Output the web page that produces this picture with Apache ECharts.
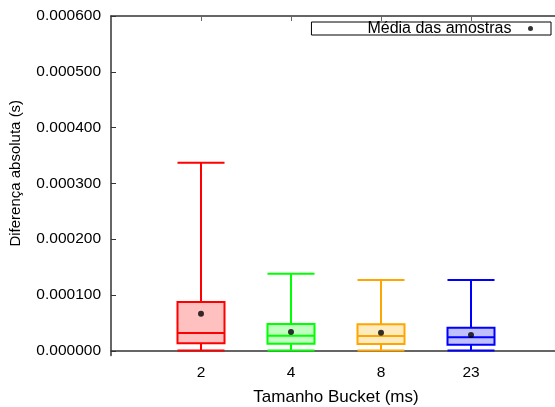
<!DOCTYPE html>
<html>
<head>
<meta charset="utf-8">
<script src="https://cdn.jsdelivr.net/npm/echarts@6/dist/echarts.min.js"></script>
<style>
  html, body { margin: 0; padding: 0; background: #fff; }
  #chart { width: 555px; height: 407px; }
</style>
</head>
<body>
<div id="chart"></div>
<script>
// Bucket sizes (ms) and the summary statistics of the absolute difference (s)
const buckets = ['2', '4', '8', '23'];
const whiskerLow = [0.0000005, 0.0000004, 0.0000005, 0.0000005];
const q1 = [0.0000133, 0.0000125, 0.0000120, 0.0000108];
const median = [0.0000317, 0.0000269, 0.0000263, 0.0000240];
const q3 = [0.0000873, 0.0000478, 0.0000473, 0.0000412];
const whiskerHigh = [0.000337, 0.000138, 0.0001267, 0.0001267];
const means = [0.0000663, 0.0000335, 0.0000323, 0.0000281];
const yTicks = [0, 0.0001, 0.0002, 0.0003, 0.0004, 0.0005, 0.0006];

const lineColors = ['#ff0000', '#00ff00', '#ffa500', '#0000ff'];
const fillColors = ['#ffc0c0', '#c0ffc0', '#ffebc0', '#c0c0ff'];

const FONT = 'Liberation Sans, Arial, Helvetica, sans-serif';
// one empty slot on each side keeps the boxes away from the frame
const axisCategories = [''].concat(buckets, ['']);

const boxData = buckets.map((b, i) => ({
  value: [b, whiskerLow[i], q1[i], median[i], q3[i], whiskerHigh[i]],
  itemStyle: { color: fillColors[i], borderColor: lineColors[i], borderWidth: 2 }
}));
const meanData = buckets.map((b, i) => [b, means[i]]);

const chart = echarts.init(document.getElementById('chart'), null, { renderer: 'canvas' });
chart.setOption({
  animation: false,
  backgroundColor: '#fff',
  textStyle: { fontFamily: FONT },
  grid: {
    left: 111, width: 450, top: 16, bottom: 51.5,
    containLabel: false, outerBoundsMode: 'none'
  },
  legend: {
    data: ['Média das amostras'],
    right: 4,
    top: 22,
    align: 'right',
    itemWidth: 28,
    itemHeight: 5,
    padding: [-1.5, 18, -1.5, 56],
    borderColor: '#000',
    borderWidth: 1,
    borderRadius: 0,
    textStyle: { fontFamily: FONT, fontSize: 16, color: '#000' },
    itemStyle: { color: '#000' },
    selectedMode: false
  },
  xAxis: [{
    type: 'category',
    data: axisCategories,
    boundaryGap: false,
    name: 'Tamanho Bucket (ms)',
    nameLocation: 'middle',
    nameGap: 33,
    nameTextStyle: { fontFamily: FONT, fontSize: 17, color: '#000' },
    axisLine: { show: true, lineStyle: { color: '#333', width: 1.5 } },
    axisTick: {
      show: true, inside: true, length: 5,
      interval: (idx, val) => val !== '',
      lineStyle: { color: '#666', width: 1 }
    },
    axisLabel: {
      fontFamily: FONT, fontSize: 15.5, color: '#000', margin: 9,
      interval: (idx, val) => val !== ''
    },
    splitLine: { show: false }
  }, {
    type: 'category',
    position: 'top',
    data: axisCategories,
    boundaryGap: false,
    axisLine: { show: true, lineStyle: { color: '#333', width: 1.5 } },
    axisTick: {
      show: true, inside: true, length: 5,
      interval: (idx, val) => val !== '',
      lineStyle: { color: '#666', width: 1 }
    },
    axisLabel: { show: false },
    splitLine: { show: false }
  }],
  yAxis: {
    type: 'value',
    min: -0.0000085,
    max: 0.0006,
    name: 'Diferença absoluta (s)',
    nameLocation: 'middle',
    nameRotate: 90,
    nameGap: 88,
    nameTextStyle: { fontFamily: FONT, fontSize: 15, color: '#000', padding: [0, 0, 0, 25] },
    axisLine: { show: true, lineStyle: { color: '#333', width: 1.5 } },
    axisTick: {
      show: true, inside: true, length: 5,
      customValues: yTicks,
      lineStyle: { color: '#333', width: 1 }
    },
    axisLabel: {
      fontFamily: FONT, fontSize: 15.5, color: '#000', margin: 10,
      customValues: yTicks,
      formatter: v => v.toFixed(6)
    },
    splitLine: { show: false }
  },
  series: [{
    type: 'boxplot',
    name: 'Distribuição',
    xAxisIndex: 0,
    encode: { x: 0, y: [1, 2, 3, 4, 5] },
    boxWidth: [47, 47],
    data: boxData,
    emphasis: { disabled: true },
    tooltip: { show: false }
  }, {
    type: 'scatter',
    name: 'Média das amostras',
    xAxisIndex: 0,
    symbol: 'circle',
    symbolSize: 6,
    itemStyle: { color: '#000' },
    data: meanData,
    z: 5
  }]
});
</script>
</body>
</html>
